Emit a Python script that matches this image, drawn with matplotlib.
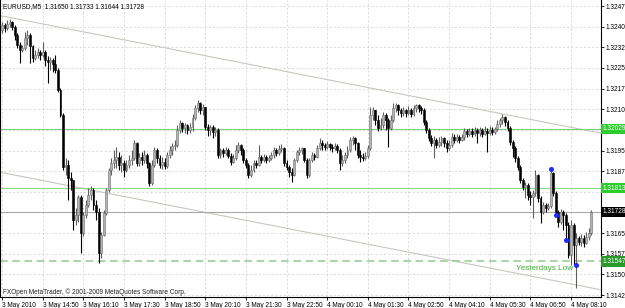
import numpy as np
import matplotlib
matplotlib.use('Agg')
import matplotlib.pyplot as plt
from matplotlib.transforms import blended_transform_factory

plt.rcParams['font.family'] = ['Liberation Sans', 'DejaVu Sans']

# EURUSD M5, 3 May 2010 13:30 -> 4 May 2010 08:50
first_open = 1.32388
closes = [
    1.32406, 1.32395, 1.32410, 1.32417, 1.32399, 1.32370, 1.32333, 1.32315, 1.32323, 1.32359,
    1.32370, 1.32330, 1.32286, 1.32297, 1.32308, 1.32297, 1.32308, 1.32279, 1.32272, 1.32279,
    1.32264, 1.32243, 1.32170, 1.32079, 1.31890, 1.31897, 1.31850, 1.31843, 1.31697, 1.31716,
    1.31781, 1.31650, 1.31716, 1.31752, 1.31788, 1.31807, 1.31752, 1.31727, 1.31578, 1.31643,
    1.31723, 1.31807, 1.31879, 1.31905, 1.31916, 1.31926, 1.31897, 1.31905, 1.31879, 1.31897,
    1.31916, 1.31923, 1.31977, 1.31905, 1.31926, 1.31916, 1.31934, 1.31905, 1.31832, 1.31897,
    1.31952, 1.31923, 1.31897, 1.31908, 1.31894, 1.31934, 1.31952, 1.31966, 1.31970, 1.32025,
    1.32050, 1.32032, 1.32043, 1.32025, 1.32035, 1.32068, 1.32105, 1.32123, 1.32097, 1.32108,
    1.32035, 1.32025, 1.32035, 1.32017, 1.32025, 1.31934, 1.31952, 1.31941, 1.31952, 1.31930,
    1.31908, 1.31923, 1.31952, 1.31970, 1.31952, 1.31916, 1.31897, 1.31861, 1.31879, 1.31905,
    1.31897, 1.31926, 1.31916, 1.31926, 1.31916, 1.31923, 1.31934, 1.31952, 1.31941, 1.31956,
    1.31959, 1.31905, 1.31890, 1.31872, 1.31861, 1.31916, 1.31945, 1.31952, 1.31959, 1.31916,
    1.31861, 1.31916, 1.31934, 1.31926, 1.31959, 1.31977, 1.31970, 1.31963, 1.31974, 1.31963,
    1.31959, 1.31966, 1.31952, 1.31905, 1.31916, 1.31934, 1.31952, 1.31988, 1.31995, 1.31977,
    1.31934, 1.31926, 1.31923, 1.31930, 1.31959, 1.32079, 1.32097, 1.32061, 1.32032, 1.32043,
    1.32079, 1.32061, 1.32032, 1.32061, 1.32105, 1.32115, 1.32097, 1.32086, 1.32097, 1.32086,
    1.32097, 1.32083, 1.32105, 1.32115, 1.32105, 1.32097, 1.32054, 1.32025, 1.31995, 1.31977,
    1.31988, 1.31970, 1.31981, 1.31995, 1.31977, 1.31959, 1.31970, 1.31999, 1.31988, 1.31999,
    1.31988, 1.31999, 1.32021, 1.32010, 1.32021, 1.32010, 1.32025, 1.32014, 1.32025, 1.32010,
    1.32021, 1.32014, 1.32025, 1.32017, 1.32028, 1.32046, 1.32061, 1.32072, 1.32054, 1.32032,
    1.31981, 1.31959, 1.31923, 1.31890, 1.31843, 1.31817, 1.31825, 1.31788, 1.31781, 1.31796,
    1.31861, 1.31777, 1.31727, 1.31752, 1.31741, 1.31748, 1.31868, 1.31796, 1.31727, 1.31690,
    1.31727, 1.31716, 1.31679, 1.31570, 1.31679, 1.31607, 1.31632, 1.31618, 1.31632, 1.31614,
    1.31636, 1.31650, 1.31728]
highs = [
    1.32417, 1.32413, 1.32424, 1.32428, 1.32421, 1.32406, 1.32377, 1.32344, 1.32333, 1.32381,
    1.32388, 1.32377, 1.32333, 1.32315, 1.32323, 1.32315, 1.32344, 1.32315, 1.32293, 1.32290,
    1.32286, 1.32297, 1.32250, 1.32177, 1.32086, 1.31923, 1.31916, 1.31872, 1.31843, 1.31741,
    1.31788, 1.31788, 1.31727, 1.31770, 1.31814, 1.31821, 1.31814, 1.31770, 1.31741, 1.31654,
    1.31734, 1.31814, 1.31886, 1.31923, 1.31952, 1.31963, 1.31945, 1.31934, 1.31916, 1.31916,
    1.31934, 1.31952, 1.31988, 1.31981, 1.31941, 1.31945, 1.31952, 1.31941, 1.31908, 1.31916,
    1.31963, 1.31959, 1.31934, 1.31926, 1.31923, 1.31945, 1.31966, 1.31977, 1.31988, 1.32043,
    1.32061, 1.32054, 1.32050, 1.32046, 1.32050, 1.32083, 1.32115, 1.32134, 1.32126, 1.32119,
    1.32108, 1.32046, 1.32043, 1.32043, 1.32035, 1.32032, 1.31959, 1.31959, 1.31963, 1.31959,
    1.31941, 1.31937, 1.31970, 1.31981, 1.31974, 1.31959, 1.31923, 1.31905, 1.31897, 1.31916,
    1.31916, 1.31970, 1.31934, 1.31937, 1.31934, 1.31934, 1.31945, 1.31963, 1.31959, 1.31970,
    1.31974, 1.31963, 1.31916, 1.31897, 1.31886, 1.31923, 1.31952, 1.31963, 1.31963, 1.31959,
    1.31923, 1.31923, 1.31945, 1.31941, 1.31970, 1.31995, 1.31988, 1.31977, 1.31985, 1.31977,
    1.31974, 1.31977, 1.31974, 1.31959, 1.31934, 1.31945, 1.31966, 1.31999, 1.32003, 1.31999,
    1.31981, 1.31952, 1.31941, 1.31945, 1.31970, 1.32108, 1.32108, 1.32097, 1.32079, 1.32068,
    1.32090, 1.32086, 1.32068, 1.32079, 1.32123, 1.32123, 1.32119, 1.32105, 1.32108, 1.32101,
    1.32112, 1.32105, 1.32115, 1.32119, 1.32119, 1.32112, 1.32105, 1.32061, 1.32032, 1.32006,
    1.32003, 1.31995, 1.31999, 1.32003, 1.31999, 1.31988, 1.31988, 1.32014, 1.32010, 1.32010,
    1.32006, 1.32010, 1.32032, 1.32028, 1.32032, 1.32032, 1.32035, 1.32032, 1.32035, 1.32032,
    1.32039, 1.32032, 1.32039, 1.32035, 1.32035, 1.32061, 1.32068, 1.32083, 1.32075, 1.32061,
    1.32039, 1.31988, 1.31966, 1.31930, 1.31897, 1.31850, 1.31836, 1.31832, 1.31803, 1.31807,
    1.31879, 1.31865, 1.31785, 1.31763, 1.31759, 1.31759, 1.31886, 1.31872, 1.31803, 1.31734,
    1.31737, 1.31734, 1.31723, 1.31690, 1.31697, 1.31687, 1.31650, 1.31639, 1.31647, 1.31643,
    1.31654, 1.31668, 1.31733]
lows = [
    1.32377, 1.32381, 1.32388, 1.32399, 1.32388, 1.32352, 1.32323, 1.32268, 1.32308, 1.32315,
    1.32333, 1.32268, 1.32272, 1.32279, 1.32286, 1.32279, 1.32290, 1.32257, 1.32195, 1.32243,
    1.32235, 1.32232, 1.32163, 1.32072, 1.31879, 1.31861, 1.31770, 1.31807, 1.31661, 1.31679,
    1.31690, 1.31578, 1.31639, 1.31705, 1.31745, 1.31770, 1.31734, 1.31697, 1.31541, 1.31559,
    1.31639, 1.31716, 1.31799, 1.31861, 1.31886, 1.31886, 1.31879, 1.31872, 1.31854, 1.31872,
    1.31886, 1.31897, 1.31916, 1.31894, 1.31894, 1.31897, 1.31905, 1.31886, 1.31821, 1.31825,
    1.31890, 1.31905, 1.31886, 1.31883, 1.31883, 1.31886, 1.31923, 1.31934, 1.31952, 1.31963,
    1.32014, 1.32017, 1.32014, 1.32010, 1.32014, 1.32021, 1.32061, 1.32090, 1.32083, 1.32079,
    1.32025, 1.32003, 1.32006, 1.31995, 1.32003, 1.31923, 1.31923, 1.31926, 1.31934, 1.31923,
    1.31897, 1.31905, 1.31916, 1.31941, 1.31934, 1.31905, 1.31886, 1.31850, 1.31854, 1.31872,
    1.31886, 1.31894, 1.31905, 1.31908, 1.31905, 1.31908, 1.31916, 1.31923, 1.31930, 1.31934,
    1.31945, 1.31894, 1.31879, 1.31854, 1.31836, 1.31857, 1.31908, 1.31934, 1.31937, 1.31908,
    1.31850, 1.31854, 1.31908, 1.31916, 1.31923, 1.31952, 1.31952, 1.31952, 1.31956, 1.31952,
    1.31945, 1.31952, 1.31941, 1.31879, 1.31894, 1.31905, 1.31923, 1.31945, 1.31970, 1.31952,
    1.31923, 1.31908, 1.31912, 1.31916, 1.31923, 1.31952, 1.32061, 1.32043, 1.32021, 1.32025,
    1.32032, 1.32025, 1.31963, 1.32025, 1.32054, 1.32090, 1.32079, 1.32072, 1.32075, 1.32072,
    1.32079, 1.32072, 1.32075, 1.32090, 1.32090, 1.32083, 1.32043, 1.32014, 1.31985, 1.31966,
    1.31923, 1.31959, 1.31963, 1.31966, 1.31963, 1.31945, 1.31952, 1.31963, 1.31977, 1.31981,
    1.31977, 1.31985, 1.31988, 1.31999, 1.32003, 1.31999, 1.32003, 1.31977, 1.32003, 1.31999,
    1.32006, 1.31945, 1.32006, 1.32006, 1.32010, 1.32021, 1.32035, 1.32046, 1.32039, 1.32021,
    1.31970, 1.31926, 1.31908, 1.31879, 1.31832, 1.31807, 1.31777, 1.31770, 1.31752, 1.31705,
    1.31785, 1.31763, 1.31687, 1.31719, 1.31727, 1.31734, 1.31741, 1.31785, 1.31716, 1.31672,
    1.31683, 1.31661, 1.31625, 1.31559, 1.31534, 1.31534, 1.31450, 1.31607, 1.31603, 1.31599,
    1.31610, 1.31625, 1.31644]
# M5 bars open where the previous bar closed
opens = [first_open] + closes[:-1]

tick_bars = list(range(0, 225, 16))
tick_labels = ['3 May 2010', '3 May 14:50', '3 May 16:10', '3 May 17:30', '3 May 18:50',
               '3 May 20:10', '3 May 21:30', '3 May 22:50', '4 May 00:10', '4 May 01:30',
               '4 May 02:50', '4 May 04:10', '4 May 05:30', '4 May 06:50', '4 May 08:10']

# horizontal levels
level_a = 1.32029
level_b = 1.31813
yest_low = 1.31547
bid = 1.31728

# channel anchor points (bar, price)
upper_line = [(0, 1.32439), (232, 1.32020)]
lower_line = [(0, 1.31870), (232, 1.31451)]

# arrows drawn on the chart
mark_bars = [216, 218, 222, 226]
mark_prices = [1.31883, 1.31716, 1.31625, 1.31534]

fs = 4.7
fig = plt.figure(figsize=(6.25, 3.08), dpi=100)
ax = fig.add_axes([0, 11/308, 601/625, 297/308])

x = np.arange(len(closes))
o = np.array(opens); c = np.array(closes)
up = c >= o
bottoms = np.minimum(o, c)
heights = np.maximum(np.abs(c - o), 0.000015)
faces = np.where(up, '#b4b4b4', '#000000')
edges = np.where(up, '#6e6e6e', '#000000')
wicks = np.where(up, '#5e5e5e', '#000000')

ax.axline(*upper_line, color='#c9c6c0', lw=0.8, zorder=1)
ax.axline(*lower_line, color='#c9c6c0', lw=0.8, zorder=1)

ax.axhline(level_a, color='#7cd27c', lw=0.8, zorder=1.5)
ax.axhline(level_b, color='#8ed88e', lw=0.8, zorder=1.5)
ax.axhline(bid, color='#a8a8a8', lw=0.8, zorder=1.5)
ax.axhline(yest_low, color='#8fcc8f', lw=1.1, ls=(0, (5, 3)), zorder=1.5)

ax.vlines(x, lows, highs, colors=wicks, linewidths=0.8, zorder=2)
ax.bar(x, heights, bottom=bottoms, width=0.75, color=faces, edgecolor=edges,
       linewidth=0.4, zorder=3)

ax.plot(mark_bars, mark_prices, 'o', color='#1f2cff', ms=2.6, zorder=5)

ax.text(225, 1.31523, 'Yesterdays Low', color='#3fae3f', fontsize=5.9,
        ha='right', va='center', zorder=6)

ax.set_xlim(-0.8, 235.8)
ax.set_ylim(1.31418, 1.32497)

# price ticks; the ones hidden under the level boxes are left blank
yticks = np.arange(1.31425, 1.324751, 0.00075)
ylabels = ['%.5f' % v for v in yticks]
for k, v in enumerate(yticks):
    if min(abs(v - level_a), abs(v - bid), abs(v - level_b)) < 0.00015:
        ylabels[k] = ''
ax.set_yticks(yticks)
ax.set_yticklabels(ylabels)
ax.yaxis.tick_right()
ax.set_xticks(tick_bars)
ax.set_xticklabels(tick_labels, ha='left')
ax.tick_params(axis='y', direction='out', length=2, pad=1.5, labelsize=fs, width=0.6)
ax.tick_params(axis='x', direction='out', length=2.5, pad=1, labelsize=fs, width=0.6)

ax.set_axisbelow(True)
ax.grid(True, color='#cbcbcb', ls=(0, (3, 3)), lw=0.5)
ax.spines['top'].set_visible(False)
for s in ['left', 'right', 'bottom']:
    ax.spines[s].set_color('#000000')
    ax.spines[s].set_linewidth(0.8)

trans = blended_transform_factory(ax.transAxes, ax.transData)
for val, fc in [(level_a, '#2ecc2e'), (level_b, '#2ecc2e'), (yest_low, '#2a9a2a'), (bid, '#000000')]:
    ax.text(1.0 + 2/601, val, '%.5f' % val, transform=trans, ha='left', va='center',
            fontsize=fs, color='white', clip_on=False, zorder=10,
            bbox=dict(boxstyle='square,pad=0.25', fc=fc, ec='none'))

ax.text(3/601, 1 - 7/297, 'EURUSD,M5  1.31650 1.31733 1.31644 1.31728',
        transform=ax.transAxes, fontsize=fs, va='center', color='#000000')
ax.text(3/601, 5/297, 'FXOpen MetaTrader, \u00a9 2001-2009 MetaQuotes Software Corp.',
        transform=ax.transAxes, fontsize=fs, va='center', color='#202020')

fig.savefig('out.png', dpi=100)
